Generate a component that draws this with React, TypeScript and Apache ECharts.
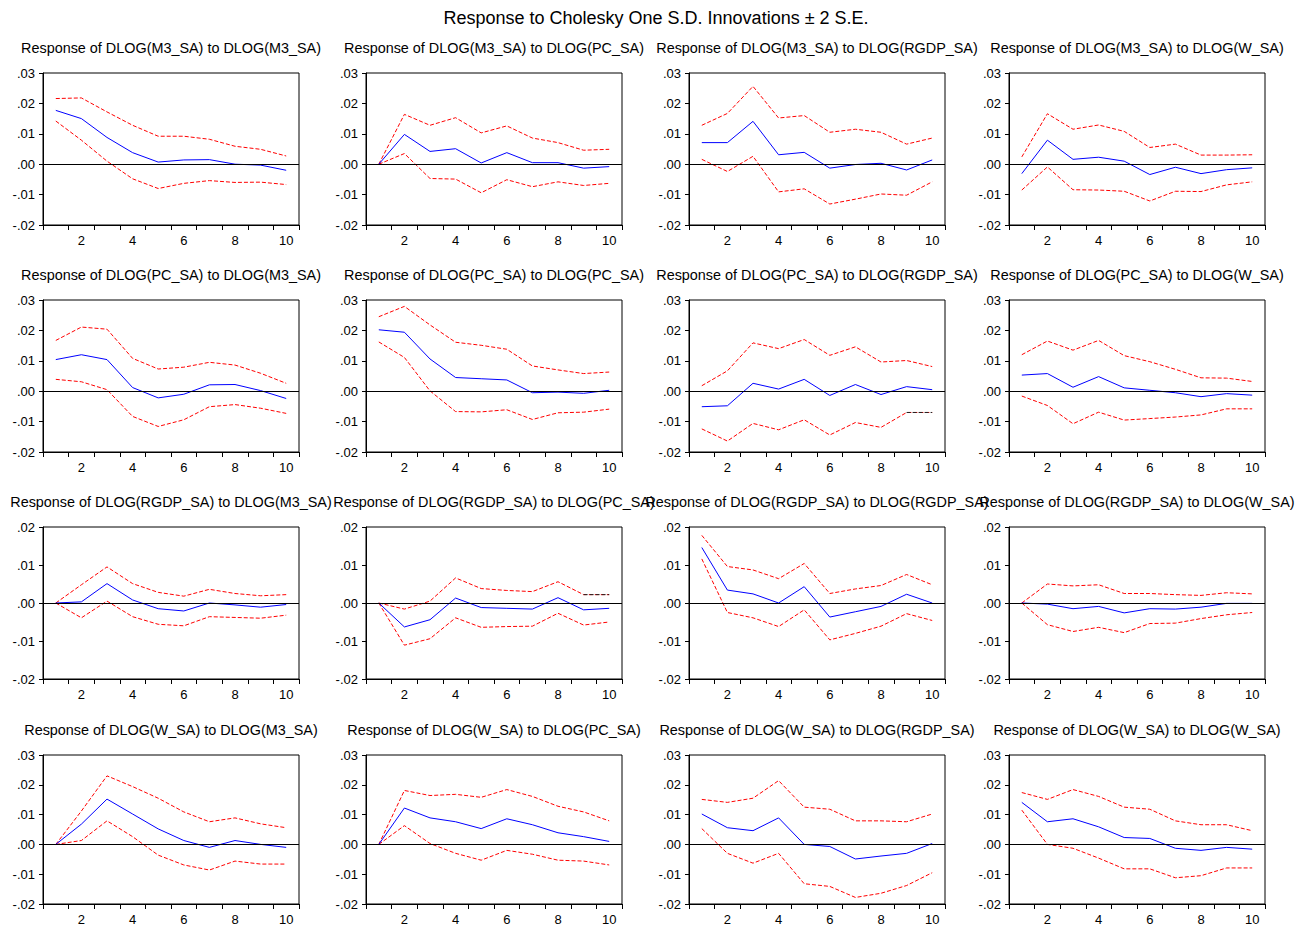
import { useEffect, useRef } from "react";
import * as echarts from "echarts";

// ---------- data ----------
const periods = ["1", "2", "3", "4", "5", "6", "7", "8", "9", "10"];
const variables = ["M3_SA", "PC_SA", "RGDP_SA", "W_SA"];
const mainTitle = "Response to Cholesky One S.D. Innovations \u00b1 2 S.E.";
const rowYMax = [0.03, 0.03, 0.02, 0.03];
const yMin = -0.02;
const yStep = 0.01;

// Response of M3
const irf_M3_M3 = [0.0177, 0.015, 0.0088, 0.0038, 0.0007, 0.0014, 0.0015, 0.0, -0.0003, -0.002];
const up_M3_M3 = [0.0216, 0.0218, 0.0172, 0.0128, 0.0092, 0.0092, 0.0082, 0.0059, 0.0049, 0.0027];
const lo_M3_M3 = [0.0142, 0.0079, 0.001, -0.0048, -0.008, -0.0063, -0.0054, -0.006, -0.0059, -0.0067];

const irf_M3_PC = [0, 0.0098, 0.0042, 0.0051, 0.0004, 0.0038, 0.0005, 0.0005, -0.0013, -0.0008];
const up_M3_PC = [0, 0.0164, 0.0128, 0.0153, 0.0103, 0.0126, 0.0086, 0.0071, 0.0046, 0.0049];
const lo_M3_PC = [0, 0.0035, -0.0047, -0.0049, -0.0094, -0.0051, -0.0074, -0.0058, -0.007, -0.0063];

const irf_M3_RGDP = [0.0071, 0.0071, 0.0141, 0.0031, 0.0039, -0.0013, -0.0001, 0.0003, -0.0019, 0.0014];
const up_M3_RGDP = [0.0128, 0.0167, 0.0256, 0.0152, 0.016, 0.0105, 0.0115, 0.0105, 0.0066, 0.0086];
const lo_M3_RGDP = [0.0016, -0.0024, 0.0026, -0.0091, -0.0081, -0.0131, -0.0115, -0.0098, -0.0102, -0.0058];

const irf_M3_W = [-0.0031, 0.0079, 0.0016, 0.0023, 0.001, -0.0034, -0.001, -0.0031, -0.0018, -0.0012];
const up_M3_W = [0.0024, 0.0166, 0.0115, 0.0129, 0.0108, 0.0055, 0.0066, 0.003, 0.003, 0.0031];
const lo_M3_W = [-0.0085, -0.0009, -0.0084, -0.0085, -0.0089, -0.0121, -0.0089, -0.009, -0.0068, -0.0058];

// Response of PC
const irf_PC_M3 = [0.0104, 0.012, 0.0104, 0.0012, -0.0022, -0.001, 0.0021, 0.0022, 0.0002, -0.0024];
const up_PC_M3 = [0.0167, 0.0211, 0.0204, 0.0108, 0.0073, 0.0079, 0.0095, 0.0086, 0.0059, 0.0026];
const lo_PC_M3 = [0.0039, 0.0031, 0.0005, -0.0083, -0.0116, -0.0094, -0.0051, -0.0044, -0.0056, -0.0073];

const irf_PC_PC = [0.0202, 0.0194, 0.0106, 0.0045, 0.0041, 0.0037, -0.0005, -0.0003, -0.0007, 0.0003];
const up_PC_PC = [0.0245, 0.0279, 0.0218, 0.0161, 0.0151, 0.0138, 0.0083, 0.007, 0.0058, 0.0063];
const lo_PC_PC = [0.0162, 0.0111, 0.0001, -0.0067, -0.0068, -0.0061, -0.0093, -0.0071, -0.0069, -0.0059];

const irf_PC_RGDP = [-0.0051, -0.0048, 0.0026, 0.0007, 0.0039, -0.0014, 0.0022, -0.0011, 0.0015, 0.0005];
const up_PC_RGDP = [0.0018, 0.0067, 0.0159, 0.014, 0.017, 0.0118, 0.0146, 0.0096, 0.0101, 0.0081];
const lo_PC_RGDP = [-0.0124, -0.0164, -0.0106, -0.0127, -0.0094, -0.0144, -0.0103, -0.0119, -0.007, -0.007];

const irf_PC_W = [0.0053, 0.0058, 0.0013, 0.0048, 0.0011, 0.0003, -0.0005, -0.0018, -0.0008, -0.0013];
const up_PC_W = [0.012, 0.0165, 0.0135, 0.0167, 0.0117, 0.0097, 0.0072, 0.0044, 0.0043, 0.0032];
const lo_PC_W = [-0.0016, -0.0047, -0.0107, -0.0069, -0.0095, -0.009, -0.0085, -0.0078, -0.0058, -0.0058];

// Response of RGDP
const irf_RGDP_M3 = [0, 0.0003, 0.0051, 0.0008, -0.0015, -0.0021, 0, -0.0005, -0.0011, -0.0004];
const up_RGDP_M3 = [0, 0.0048, 0.0095, 0.0051, 0.0028, 0.0018, 0.0036, 0.0025, 0.0019, 0.0022];
const lo_RGDP_M3 = [0, -0.0039, 0.0005, -0.0036, -0.0056, -0.006, -0.0036, -0.0038, -0.004, -0.0032];

const irf_RGDP_PC = [0, -0.0063, -0.0044, 0.0013, -0.0012, -0.0014, -0.0016, 0.0014, -0.0018, -0.0014];
const up_RGDP_PC = [0, -0.0016, 0.0005, 0.0066, 0.0038, 0.0033, 0.003, 0.0056, 0.0022, 0.0022];
const lo_RGDP_PC = [0, -0.0111, -0.0094, -0.0039, -0.0064, -0.0062, -0.0061, -0.0027, -0.0058, -0.005];

const irf_RGDP_RGDP = [0.0146, 0.0034, 0.0024, 0, 0.0043, -0.0037, -0.0023, -0.0009, 0.0023, 0];
const up_RGDP_RGDP = [0.0178, 0.0096, 0.0087, 0.0064, 0.0104, 0.0025, 0.0037, 0.0046, 0.0075, 0.0048];
const lo_RGDP_RGDP = [0.0116, -0.0025, -0.0039, -0.0062, -0.0018, -0.0097, -0.008, -0.0061, -0.0028, -0.0046];

const irf_RGDP_W = [0, -0.0003, -0.0015, -0.0009, -0.0026, -0.0015, -0.0016, -0.0011, -0.0001, -0.0001];
const up_RGDP_W = [0, 0.005, 0.0045, 0.0048, 0.0025, 0.0025, 0.0022, 0.002, 0.0027, 0.0024];
const lo_RGDP_W = [0, -0.0057, -0.0075, -0.0064, -0.0078, -0.0054, -0.0053, -0.0041, -0.0031, -0.0025];

// Response of W
const irf_W_M3 = [0, 0.0068, 0.0152, 0.0102, 0.0052, 0.0013, -0.001, 0.0013, 0.0, -0.001];
const up_W_M3 = [0, 0.0112, 0.023, 0.0194, 0.0155, 0.0109, 0.0076, 0.0089, 0.0069, 0.0056];
const lo_W_M3 = [0, 0.0013, 0.0079, 0.0026, -0.0036, -0.0069, -0.0086, -0.0056, -0.0066, -0.0066];

const irf_W_PC = [0, 0.0122, 0.0089, 0.0076, 0.0053, 0.0086, 0.0066, 0.0039, 0.0026, 0.001];
const up_W_PC = [0, 0.0181, 0.0164, 0.0168, 0.0158, 0.0184, 0.0161, 0.0128, 0.0109, 0.0079];
const lo_W_PC = [0, 0.0063, 0.0003, -0.003, -0.0053, -0.002, -0.0033, -0.0053, -0.0056, -0.0069];

const irf_W_RGDP = [0.0102, 0.0056, 0.0046, 0.0089, 0.0, -0.0007, -0.0049, -0.0039, -0.003, 0.0003];
const up_W_RGDP = [0.0151, 0.0141, 0.0155, 0.0214, 0.0125, 0.0118, 0.0079, 0.0079, 0.0076, 0.0102];
const lo_W_RGDP = [0.0053, -0.003, -0.0063, -0.003, -0.0132, -0.0141, -0.0178, -0.0164, -0.0138, -0.0095];

const irf_W_W = [0.0141, 0.0076, 0.0086, 0.0059, 0.0023, 0.002, -0.0013, -0.002, -0.001, -0.0016];
const up_W_W = [0.0174, 0.0151, 0.0184, 0.0161, 0.0125, 0.0118, 0.0079, 0.0066, 0.0066, 0.0046];
const lo_W_W = [0.0115, 0.0, -0.0013, -0.0046, -0.0082, -0.0082, -0.0112, -0.0105, -0.0079, -0.0079];

const panelData = [
  [irf_M3_M3, up_M3_M3, lo_M3_M3],
  [irf_M3_PC, up_M3_PC, lo_M3_PC],
  [irf_M3_RGDP, up_M3_RGDP, lo_M3_RGDP],
  [irf_M3_W, up_M3_W, lo_M3_W],
  [irf_PC_M3, up_PC_M3, lo_PC_M3],
  [irf_PC_PC, up_PC_PC, lo_PC_PC],
  [irf_PC_RGDP, up_PC_RGDP, lo_PC_RGDP],
  [irf_PC_W, up_PC_W, lo_PC_W],
  [irf_RGDP_M3, up_RGDP_M3, lo_RGDP_M3],
  [irf_RGDP_PC, up_RGDP_PC, lo_RGDP_PC],
  [irf_RGDP_RGDP, up_RGDP_RGDP, lo_RGDP_RGDP],
  [irf_RGDP_W, up_RGDP_W, lo_RGDP_W],
  [irf_W_M3, up_W_M3, lo_W_M3],
  [irf_W_PC, up_W_PC, lo_W_PC],
  [irf_W_RGDP, up_W_RGDP, lo_W_RGDP],
  [irf_W_W, up_W_W, lo_W_W],
];

// last band segment drawn darker in the original rendering: [panel, band(1=upper,2=lower)]
const darkTailSegments = [
  [6, 2],
  [9, 1],
];

// ---------- layout ----------
const FONT = 'Arial, "Liberation Sans", sans-serif';
const colLeft = [43, 366, 689, 1009];
const rowTop = [73, 300, 527, 755];
const plotW = 256;
const plotH = 152;

function fmtY(v: number) {
  const r = Math.round(v * 100) / 100;
  const s = Math.abs(r).toFixed(2).replace(/^0/, "");
  return (r < 0 ? "-" : "") + s;
}

function buildOption() {
  const grid: any[] = [];
  const xAxis: any[] = [];
  const yAxis: any[] = [];
  const series: any[] = [];
  const graphic: any[] = [];

  graphic.push({
    type: "text",
    x: 656,
    y: 18,
    silent: true,
    style: {
      text: mainTitle,
      font: `18px ${FONT}`,
      fill: "#000",
      align: "center",
      verticalAlign: "middle",
      textAlign: "center",
      textVerticalAlign: "middle",
    },
  });

  for (let i = 0; i < 16; i++) {
    const r = Math.floor(i / 4);
    const c = i % 4;
    const [irf, up, lo] = panelData[i];
    const left = colLeft[c];
    const top = rowTop[r];
    grid.push({
      left,
      top,
      width: plotW,
      height: plotH,
      show: true,
      borderColor: "#000",
      borderWidth: 1,
      backgroundColor: "transparent",
      containLabel: false,
    });
    xAxis.push({
      type: "category",
      gridIndex: i,
      data: periods,
      boundaryGap: true,
      axisLine: { show: true, onZero: false, lineStyle: { color: "#000", width: 1 } },
      axisTick: { show: true, interval: 0, length: 5, inside: false, lineStyle: { color: "#000" } },
      axisLabel: {
        show: true,
        interval: (idx: number) => idx % 2 === 1,
        margin: 9,
        fontSize: 13,
        fontFamily: FONT,
        color: "#000",
      },
      splitLine: { show: false },
    });
    yAxis.push({
      type: "value",
      gridIndex: i,
      min: yMin,
      max: rowYMax[r],
      interval: yStep,
      axisLine: { show: true, onZero: false, lineStyle: { color: "#000", width: 1 } },
      axisTick: { show: true, length: 4, inside: false, lineStyle: { color: "#000" } },
      axisLabel: {
        show: true,
        margin: 8,
        fontSize: 13,
        fontFamily: FONT,
        color: "#000",
        formatter: fmtY,
      },
      splitLine: { show: false },
    });
    const base = {
      type: "line",
      xAxisIndex: i,
      yAxisIndex: i,
      symbol: "none",
      showSymbol: false,
      silent: true,
      smooth: false,
    };
    series.push({
      ...base,
      name: `zero${i}`,
      data: [],
      markLine: {
        silent: true,
        symbol: "none",
        label: { show: false },
        lineStyle: { color: "#000", width: 1, type: "solid" },
        data: [{ yAxis: 0 }],
      },
    });
    series.push({
      ...base,
      name: `upper${i}`,
      data: up,
      lineStyle: { color: "#ff0000", width: 1, type: [4, 2] },
    });
    series.push({
      ...base,
      name: `lower${i}`,
      data: lo,
      lineStyle: { color: "#ff0000", width: 1, type: [4, 2] },
    });
    darkTailSegments
      .filter(([p]) => p === i)
      .forEach(([, b]) => {
        const src = panelData[i][b];
        const n = src.length;
        series.push({
          ...base,
          name: `tail${i}_${b}`,
          data: src.map((v, k) => (k >= n - 2 ? v : null)),
          lineStyle: { color: "#222", width: 1, type: [4, 2] },
        });
      });
    series.push({
      ...base,
      name: `irf${i}`,
      data: irf,
      lineStyle: { color: "#0000ff", width: 1, type: "solid" },
    });

    graphic.push({
      type: "text",
      x: left + plotW / 2,
      y: top - 25,
      silent: true,
      style: {
        text: `Response of DLOG(${variables[r]}) to DLOG(${variables[c]})`,
        font: `14.4px ${FONT}`,
        fill: "#000",
        align: "center",
        verticalAlign: "middle",
        textAlign: "center",
        textVerticalAlign: "middle",
      },
    });
  }

  return {
    animation: false,
    backgroundColor: "#fff",
    grid,
    xAxis,
    yAxis,
    series,
    graphic,
  };
}

export default function App() {
  const ref = useRef<HTMLDivElement>(null);
  useEffect(() => {
    if (!ref.current) return;
    const chart = echarts.init(ref.current, undefined, { renderer: "svg" });
    chart.setOption(buildOption() as any);
    return () => chart.dispose();
  }, []);
  return (
    <div
      ref={ref}
      style={{ position: "absolute", left: 0, top: 0, width: 1308, height: 926 }}
    />
  );
}
